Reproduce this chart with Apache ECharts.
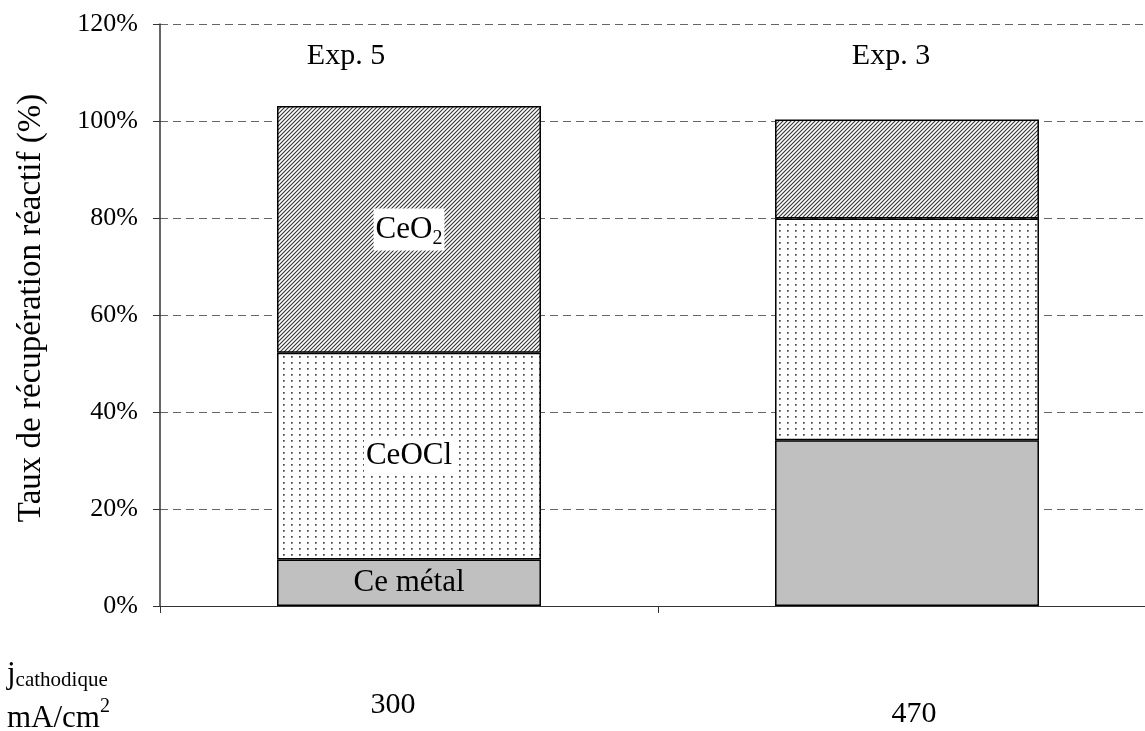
<!DOCTYPE html>
<html>
<head>
<meta charset="utf-8">
<script src="https://cdn.jsdelivr.net/npm/echarts@6/dist/echarts.min.js"></script>
<style>
  html, body { margin: 0; padding: 0; background: #fff; }
  #chart { width: 1145px; height: 731px; }
</style>
</head>
<body>
<div id="chart"></div>
<script>
// données
var densites = ['300', '470'];          // j cathodique mA/cm2
var experiences = ['Exp. 5', 'Exp. 3'];
var ceMetal = [9.6, 34.2];
var ceOCl = [42.6, 45.7];
var ceO2 = [50.9, 20.4];
var yTicks = [0, 20, 40, 60, 80, 100, 120];

var police = "'Liberation Serif', 'Times New Roman', serif";

// motif hachuré "/"
function hachures() {
  var c = document.createElement('canvas');
  c.width = 4; c.height = 4;
  var ctx = c.getContext('2d');
  ctx.fillStyle = '#fff';
  ctx.fillRect(0, 0, 4, 4);
  ctx.strokeStyle = '#333';
  ctx.lineWidth = 1.1;
  ctx.beginPath();
  ctx.moveTo(-1, 5); ctx.lineTo(5, -1);
  ctx.moveTo(-1, 1); ctx.lineTo(1, -1);
  ctx.moveTo(3, 5); ctx.lineTo(5, 3);
  ctx.stroke();
  return c;
}
// motif pointillé
function points() {
  var c = document.createElement('canvas');
  c.width = 8; c.height = 6;
  var ctx = c.getContext('2d');
  ctx.fillStyle = '#fff';
  ctx.fillRect(0, 0, 8, 6);
  ctx.fillStyle = '#444';
  ctx.fillRect(3, 2, 1.7, 1.7);
  return c;
}

var myChart = echarts.init(document.getElementById('chart'), null, { renderer: 'canvas' });

var labelBase = {
  show: true,
  position: 'inside',
  color: '#000',
  fontFamily: police,
  fontSize: 31
};

var option = {
  backgroundColor: '#fff',
  animation: false,
  textStyle: { fontFamily: police },
  grid: { left: 160, top: 24, width: 996, bottom: 125, containLabel: false, outerBoundsMode: 'none' },
  xAxis: {
    type: 'category',
    data: densites,
    axisLine: { lineStyle: { color: '#333', width: 1.2 } },
    axisTick: { show: true, length: 7, lineStyle: { color: '#333' } },
    axisLabel: {
      margin: 82,
      color: '#000',
      fontFamily: police,
      fontSize: 30,
      formatter: function (v, i) { return i === 0 ? '{a|' + v + '}' : '{b|' + v + '}'; },
      rich: {
        a: { fontFamily: police, fontSize: 30, padding: [2, 32, 0, 0] },
        b: { fontFamily: police, fontSize: 30, padding: [11, 0, 0, 14] }
      }
    }
  },
  yAxis: {
    type: 'value',
    min: yTicks[0],
    max: yTicks[yTicks.length - 1],
    interval: 20,
    name: 'Taux de récupération réactif (%)',
    nameLocation: 'middle',
    nameRotate: 90,
    nameGap: 112,
    nameTextStyle: { fontFamily: police, fontSize: 33, color: '#000', padding: [0, 0, 0, 14] },
    axisLine: { show: true, lineStyle: { color: '#333', width: 1.5 } },
    axisTick: { show: true, length: 7, lineStyle: { color: '#333' } },
    axisLabel: {
      margin: 22,
      color: '#000',
      fontFamily: police,
      fontSize: 26,
      formatter: '{value}%'
    },
    splitLine: { show: true, lineStyle: { color: '#666', type: [8, 5], width: 1 } }
  },
  series: [
    {
      name: 'Ce métal',
      type: 'bar',
      stack: 'total',
      barWidth: '53%',
      data: ceMetal.map(function (v, i) {
        return { value: v, label: { show: i === 0 } };
      }),
      itemStyle: { color: '#c0c0c0', borderColor: '#000', borderWidth: 1.5 },
      label: Object.assign({}, labelBase, { formatter: 'Ce métal' })
    },
    {
      name: 'CeOCl',
      type: 'bar',
      stack: 'total',
      data: ceOCl.map(function (v, i) {
        return { value: v, label: { show: i === 0 } };
      }),
      itemStyle: { color: { image: points(), repeat: 'repeat' }, borderColor: '#000', borderWidth: 1.5 },
      label: Object.assign({}, labelBase, {
        formatter: 'CeOCl',
        backgroundColor: '#fff',
        padding: [4, 2, 2, 2]
      })
    },
    {
      name: 'CeO2',
      type: 'bar',
      stack: 'total',
      data: ceO2.map(function (v, i) {
        return { value: v, label: { show: i === 0 } };
      }),
      itemStyle: { color: { image: hachures(), repeat: 'repeat' }, borderColor: '#000', borderWidth: 1.5 },
      label: Object.assign({}, labelBase, {
        formatter: '{a|CeO}{s|2}',
        backgroundColor: '#fff',
        padding: [2, 2, 2, 2],
        rich: {
          a: { fontFamily: police, fontSize: 31, color: '#000' },
          s: { fontFamily: police, fontSize: 20, color: '#000', padding: [18, 0, 0, 0], verticalAlign: 'top' }
        }
      })
    }
  ]
};

myChart.setOption(option);

// étiquettes Exp. au-dessus des barres, et légende de l'axe x
var decalages = [-63, -16];
var graphics = experiences.map(function (t, i) {
  var p = myChart.convertToPixel({ gridIndex: 0 }, [i, 113.4]);
  return {
    type: 'text',
    x: p[0] + decalages[i],
    y: p[1],
    style: {
      text: t,
      font: '30px ' + police,
      fill: '#000',
      align: 'center',
      verticalAlign: 'middle'
    }
  };
});
graphics.push({
  type: 'text',
  x: 7,
  y: 658,
  style: {
    text: '{j|j}{s|cathodique}',
    rich: {
      j: { fontFamily: police, fontSize: 31, fill: '#000' },
      s: { fontFamily: police, fontSize: 21, fill: '#000', padding: [12, 0, 0, 0], verticalAlign: 'top' }
    }
  }
});
graphics.push({
  type: 'text',
  x: 7,
  y: 697,
  style: {
    text: '{m|mA/cm}{e|2}',
    rich: {
      m: { fontFamily: police, fontSize: 31, fill: '#000', padding: [6, 0, 0, 0], verticalAlign: 'top' },
      e: { fontFamily: police, fontSize: 20, fill: '#000', verticalAlign: 'top' }
    }
  }
});
myChart.setOption({ graphic: graphics });
</script>
</body>
</html>
